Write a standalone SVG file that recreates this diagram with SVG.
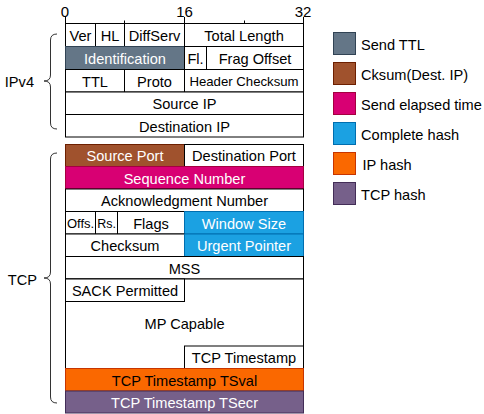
<svg xmlns="http://www.w3.org/2000/svg" width="484" height="414" viewBox="0 0 484 414">
<style>
text{font-family:"Liberation Sans",Arial,sans-serif;font-size:14.6px;fill:#000}
.c{text-anchor:middle}
.w{fill:#fff}
.cell{fill:#fff;stroke:#000;stroke-width:1}
.ttl{fill:#647687;stroke:#314354}
.ck{fill:#a0522d;stroke:#6d1f00}
.el{fill:#d80073;stroke:#a50040}
.ch{fill:#1ba1e2;stroke:#006eaf}
.ip{fill:#fa6800;stroke:#c73500}
.tcp{fill:#76608a;stroke:#432d57}
.ax{stroke:#000;stroke-width:1;fill:none}
.br{stroke:#333;stroke-width:1;fill:none}
.sm{font-size:13.2px}
</style>
<g id="axis">
<line class="ax" x1="65.5" y1="23.5" x2="303.5" y2="23.5"/>
<line class="ax" x1="65.5" y1="17" x2="65.5" y2="23.5"/>
<line class="ax" x1="124.5" y1="20.5" x2="124.5" y2="23.5"/>
<line class="ax" x1="184.5" y1="17" x2="184.5" y2="23.5"/>
<line class="ax" x1="244.5" y1="20.5" x2="244.5" y2="23.5"/>
<line class="ax" x1="303.5" y1="17" x2="303.5" y2="23.5"/>
<text class="c" x="65" y="17" style="font-size:15px">0</text>
<text class="c" x="184.5" y="17" style="font-size:15px">16</text>
<text class="c" x="303" y="17" style="font-size:15px">32</text>
</g>
<g id="braces">
<path class="br" d="M57,34 Q50.5,34 50.5,40 L50.5,75 Q50.5,81 44,81 Q50.5,81 50.5,87 L50.5,123 Q50.5,129 57,129"/>
<path class="br" d="M57,153 Q50.5,153 50.5,159 L50.5,272 Q50.5,278 44,278 Q50.5,278 50.5,284 L50.5,397 Q50.5,403 57,403"/>
<text x="34" y="86.5" style="text-anchor:end">IPv4</text>
<text x="37" y="284.5" style="text-anchor:end">TCP</text>
</g>
<g id="ver"><rect class="cell" x="65.5" y="23.5" width="30" height="23"/><text class="c" x="80.5" y="40.5">Ver</text></g>
<g id="hl"><rect class="cell" x="95.5" y="23.5" width="29" height="23"/><text class="c" x="110" y="40.5">HL</text></g>
<g id="diffserv"><rect class="cell" x="124.5" y="23.5" width="60" height="23"/><text class="c" x="154.5" y="40.5">DiffServ</text></g>
<g id="totallength"><rect class="cell" x="184.5" y="23.5" width="119" height="23"/><text class="c" x="244" y="40.5">Total Length</text></g>
<g id="identification"><rect class="cell ttl" x="65.5" y="46.5" width="119" height="23"/><text class="c w" x="125" y="63.5">Identification</text></g>
<g id="fl"><rect class="cell" x="184.5" y="46.5" width="22" height="23"/><text class="c" x="195.5" y="63.5">Fl.</text></g>
<g id="fragoffset"><rect class="cell" x="206.5" y="46.5" width="97" height="23"/><text class="c" x="255" y="63.5">Frag Offset</text></g>
<g id="ttl"><rect class="cell" x="65.5" y="69.5" width="59" height="22.5"/><text class="c" x="95" y="86.5">TTL</text></g>
<g id="proto"><rect class="cell" x="124.5" y="69.5" width="60" height="22.5"/><text class="c" x="154.5" y="86.5">Proto</text></g>
<g id="headerchecksum"><rect class="cell" x="184.5" y="69.5" width="119" height="22.5"/><text class="c sm" x="244" y="85.5">Header Checksum</text></g>
<g id="sourceip"><rect class="cell" x="65.5" y="92" width="238" height="22.5"/><text class="c" x="184.5" y="109">Source IP</text></g>
<g id="destip"><rect class="cell" x="65.5" y="114.5" width="238" height="22.5"/><text class="c" x="184.5" y="131.5">Destination IP</text></g>

<g id="sourceport"><rect class="cell ck" x="65.5" y="144.5" width="119" height="22"/><text class="c w" x="125" y="161">Source Port</text></g>
<g id="destport"><rect class="cell" x="184.5" y="144.5" width="119" height="22"/><text class="c" x="244" y="161">Destination Port</text></g>
<g id="seq"><rect class="cell el" x="65.5" y="166.5" width="238" height="22.5"/><text class="c w" x="184.5" y="183.5">Sequence Number</text></g>
<g id="ack"><rect class="cell" x="65.5" y="189" width="238" height="22.5"/><text class="c" x="184.5" y="206">Acknowledgment Number</text></g>
<g id="offs"><rect class="cell" x="65.5" y="211.5" width="30" height="22.5"/><text class="c" x="80.5" y="228" style="font-size:13px">Offs.</text></g>
<g id="rs"><rect class="cell" x="95.5" y="211.5" width="22" height="22.5"/><text class="c" x="106.5" y="228" style="font-size:12.5px">Rs.</text></g>
<g id="flags"><rect class="cell" x="117.5" y="211.5" width="67" height="22.5"/><text class="c" x="151" y="228.5">Flags</text></g>
<g id="window"><rect class="cell ch" x="184.5" y="211.5" width="119" height="22.5"/><text class="c w" x="244" y="228.5">Window Size</text></g>
<g id="checksum"><rect class="cell" x="65.5" y="234" width="119" height="22.5"/><text class="c" x="125" y="251">Checksum</text></g>
<g id="urgent"><rect class="cell ch" x="184.5" y="234" width="119" height="22.5"/><text class="c w" x="244" y="251">Urgent Pointer</text></g>
<g id="mss"><rect class="cell" x="65.5" y="256.5" width="238" height="22.5"/><text class="c" x="184.5" y="273.5">MSS</text></g>
<g id="mpcapable"><rect class="cell" x="65.5" y="279" width="238" height="89.5"/><text class="c" x="184.5" y="329">MP Capable</text></g>
<g id="sack"><rect class="cell" x="65.5" y="279" width="119" height="22.5"/><text class="c" x="125" y="296">SACK Permitted</text></g>
<g id="tcpts"><rect class="cell" x="184.5" y="346" width="119" height="22.5"/><text class="c" x="244" y="363">TCP Timestamp</text></g>
<g id="tsval"><rect class="cell ip" x="65.5" y="368.5" width="238" height="22.5"/><text class="c" x="184.5" y="385.5">TCP Timestamp TSval</text></g>
<g id="tsecr"><rect class="cell tcp" x="65.5" y="391" width="238" height="22"/><text class="c w" x="184.5" y="407.5">TCP Timestamp TSecr</text></g>

<g id="legend-sendttl"><rect class="ttl" x="333.5" y="32.5" width="22" height="22"/><text x="361" y="49.5">Send TTL</text></g>
<g id="legend-cksum"><rect class="ck" x="333.5" y="62.5" width="22" height="22"/><text x="361" y="79.5">Cksum(Dest. IP)</text></g>
<g id="legend-elapsed"><rect class="el" x="333.5" y="92.5" width="22" height="22"/><text x="361" y="109.5">Send elapsed time</text></g>
<g id="legend-complete"><rect class="ch" x="333.5" y="122.5" width="22" height="22"/><text x="361" y="139.5">Complete hash</text></g>
<g id="legend-iphash"><rect class="ip" x="333.5" y="152.5" width="22" height="22"/><text x="362.5" y="169.5">IP hash</text></g>
<g id="legend-tcphash"><rect class="tcp" x="333.5" y="182.5" width="22" height="22"/><text x="361" y="199.5">TCP hash</text></g>
</svg>
